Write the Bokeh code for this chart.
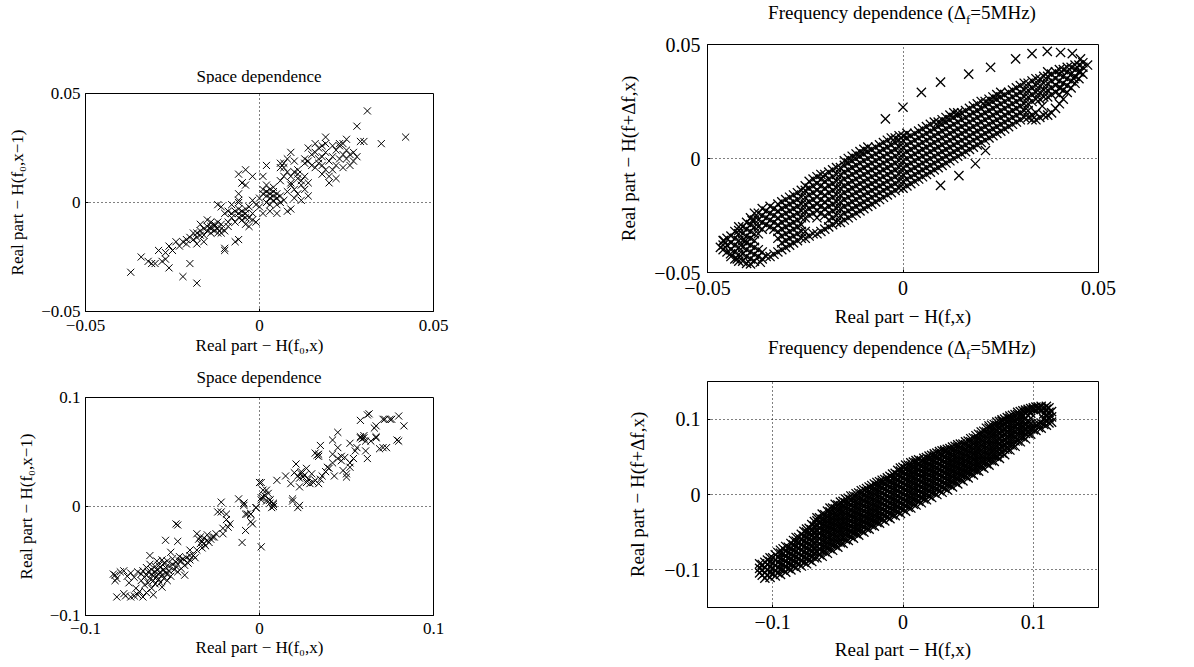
from bokeh.plotting import figure
from bokeh.layouts import row, column
from bokeh.models import FixedTicker, Range1d, Div
from bokeh.embed import file_html
from bokeh.resources import INLINE

FONT = "Liberation Serif"

# ---------------- data ----------------
# Space dependence, top-left panel: (H(f0,x), H(f0,x-1))
space_top = [
    (-.037,-.032),(-.034,-.025),(-.032,-.027),(-.031,-.028),(-.030,-.028),(-.028,-.027),(-.027,-.026),(-.026,-.030),
    (-.022,-.034),(-.020,-.028),(-.018,-.037),(-.027,-.023),(-.026,-.020),(-.023,-.020),(-.022,-.018),(-.021,-.019),
    (-.024,-.018),(-.025,-.022),(-.029,-.022),(-.019,-.017),(-.018,-.014),(-.017,-.015),(-.017,-.010),(-.015,-.008),
    (-.014,-.011),(-.013,-.011),(-.012,-.012),(-.011,-.014),(-.010,-.022),(-.010,-.021),(-.007,-.018),(-.006,-.017),
    (-.020,-.016),(-.019,-.014),(-.018,-.016),(-.017,-.013),(-.016,-.012),(-.016,-.015),(-.015,-.013),(-.015,-.011),
    (-.014,-.014),(-.014,-.012),(-.014,-.009),(-.013,-.013),(-.013,-.010),(-.012,-.009),(-.012,-.014),(-.011,-.012),
    (-.011,-.010),(-.010,-.013),(-.009,-.009),(-.009,-.011),(-.016,-.018),(-.018,-.019),(-.021,-.017),(-.008,-.007),
    (-.007,-.009),(-.010,-.005),(-.008,-.005),(-.012,-.001),(-.011,-.002),(-.009,-.004),(-.008,-.001),(-.006,-.005),
    (-.005,-.004),(-.004,-.007),(-.004,-.010),(-.003,-.011),(-.002,-.005),(-.006,.001),(-.006,.004),(-.005,.009),
    (-.006,-.003),(-.005,-.006),(-.004,-.005),(-.004,-.003),(-.003,-.007),(-.005,-.008),(-.006,-.007),(-.003,-.002),
    (-.002,-.008),(-.001,-.009),(-.007,-.004),(-.006,.000),(-.002,.001),(-.001,-.001),(-.006,.013),(-.004,.015),
    (-.002,.012),(.001,.012),(-.005,.009),(-.004,.008),(.000,.002),(.001,.004),(.001,.006),(.002,.003),
    (.002,.005),(.002,.008),(.003,.002),(.003,.004),(.003,.006),(.004,.001),(.004,.003),(.004,.005),
    (.004,.007),(.005,.002),(.005,.004),(.006,.000),(.006,.003),(.005,-.001),(.003,-.001),(.002,.000),
    (.007,.001),(.008,-.004),(.009,-.003),(.001,-.005),(.003,-.004),(.005,-.005),(.000,-.002),(.006,.010),
    (.007,.012),(.008,.014),(.009,.009),(.006,.016),(.007,.018),(.008,.005),(.009,.008),(.010,.002),
    (.010,.006),(.011,.011),(.011,.004),(.012,.008),(.012,.001),(.013,.006),(.013,.012),(.014,.009),
    (.014,.003),(.010,.014),(.009,.012),(.008,.020),(.010,.019),(.011,.015),(.013,.018),
    (.014,.019),(.015,.022),(.015,.017),(.016,.016),(.016,.023),(.017,.020),(.017,.018),(.017,.025),
    (.018,.013),(.018,.021),(.018,.017),(.019,.015),(.019,.023),(.020,.019),(.020,.012),(.021,.021),
    (.021,.015),(.022,.024),(.022,.017),(.023,.026),(.023,.020),(.024,.022),(.024,.016),(.025,.024),
    (.025,.020),(.026,.022),(.027,.023),(.027,.019),(.028,.021),(.026,.017),(.022,.011),(.020,.009),
    (.019,.027),(.014,.025),(.013,.020),(.016,.027),(.018,.026),(.024,.027),(.021,.026),(.009,.023),
    (.002,.017),(.006,.018),(.007,.016),(.011,.013),(.012,.010),
    (.031,.042),(.028,.035),(.029,.028),(.030,.028),(.035,.027),(.042,.030),(.019,.030),(.023,.027),(.025,.029),
]

# Space dependence, bottom-left panel
space_bottom = [
    (-.084,-.062),(-.083,-.063),(-.083,-.068),(-.082,-.066),(-.082,-.083),(-.080,-.060),(-.078,-.059),(-.077,-.082),
    (-.076,-.064),(-.075,-.070),(-.074,-.061),(-.072,-.065),(-.072,-.082),(-.071,-.075),(-.070,-.060),(-.069,-.078),
    (-.068,-.068),(-.068,-.062),(-.067,-.083),(-.067,-.059),(-.066,-.065),(-.066,-.072),(-.065,-.056),(-.065,-.063),
    (-.064,-.070),(-.064,-.060),(-.063,-.053),(-.063,-.066),(-.063,-.045),(-.062,-.058),(-.062,-.062),(-.062,-.075),
    (-.061,-.064),(-.061,-.068),(-.060,-.055),(-.060,-.060),(-.060,-.071),(-.059,-.050),(-.059,-.058),(-.059,-.064),
    (-.058,-.062),(-.058,-.067),(-.058,-.054),(-.057,-.056),(-.057,-.060),(-.057,-.070),(-.056,-.049),(-.056,-.063),
    (-.056,-.074),(-.055,-.058),(-.055,-.052),(-.055,-.066),(-.054,-.061),(-.054,-.056),(-.053,-.062),(-.053,-.050),
    (-.053,-.068),(-.052,-.055),(-.052,-.059),(-.051,-.042),(-.051,-.064),(-.050,-.053),(-.050,-.048),(-.049,-.058),
    (-.048,-.055),(-.048,-.051),(-.047,-.060),(-.046,-.050),(-.046,-.046),(-.045,-.050),(-.045,-.057),(-.044,-.048),
    (-.043,-.063),(-.043,-.054),(-.042,-.047),(-.041,-.052),(-.040,-.049),(-.040,-.045),(-.074,-.083),(-.070,-.081),
    (-.078,-.080),(-.065,-.079),(-.061,-.081),
    (-.054,-.031),(-.048,-.016),(-.047,-.032),(-.047,-.017),
    (-.040,-.040),(-.038,-.045),(-.037,-.047),(-.036,-.025),(-.035,-.030),(-.034,-.028),(-.034,-.034),(-.033,-.032),
    (-.032,-.034),(-.032,-.029),(-.031,-.036),(-.030,-.031),(-.030,-.026),(-.029,-.033),(-.028,-.030),(-.027,-.028),
    (-.026,-.028),(-.025,-.025),(-.033,-.038),(-.036,-.040),
    (-.022,.004),(-.024,-.005),(-.022,-.005),(-.019,-.007),(-.018,-.019),(-.017,-.016),(-.019,-.012),(-.021,-.020),
    (-.021,-.025),(-.012,.007),(-.009,.001),(-.008,-.007),(-.007,-.007),(-.004,-.016),(-.010,-.033),(-.008,-.022),
    (-.005,-.014),(.001,-.037),(-.009,.003),(-.005,-.007),(-.002,-.001),
    (.000,.022),(.001,.008),(.002,.015),(.004,.005),(.006,.006),(.006,.003),(.008,.002),(.007,-.001),
    (.008,.000),(.003,.010),(.005,.012),
    (.063,.085),(.058,.079),(.072,.080),(.076,.080),(.080,.083),(.083,.074),(.067,.074),(.045,.068),
    (.042,.061),(.058,.064),(.061,.060),(.067,.064),(.079,.061),(.073,.054),(.069,.053),(.052,.058),
    (.061,.051),(.035,.056),(.034,.048),(.042,.048),(.045,.054),(.047,.046),(.047,.042),(.049,.045),
    (.054,.044),(.055,.051),(.062,.044),(.052,.036),(.048,.033),(.050,.027),(.040,.035),(.035,.025),
    (.043,.028),(.038,.032),(.029,.021),(.031,.022),(.027,.035),(.024,.032),(.025,.027),(.021,.039),
    (.020,.031),(.018,.021),(.023,.018),(.015,.028),(.010,.024),(.001,.022),(.002,.009),(.004,.015),
    (.006,.006),(.008,.003),(.001,.006),(.019,.007),(.023,.001),(-.009,.003),(-.005,-.007),(-.002,-.001),
    (.022,.028),(.023,.026),(.024,.030),(.026,.029),(.027,.022),(.028,.025),(.030,.030),(.032,.024),
    (.034,.021),(.036,.028),(.039,.036),(.042,.040),(.045,.044),(.050,.030),(.052,.040),(.056,.054),
    (.058,.063),(.060,.063),(.060,.065),(.059,.062),(.064,.060),(.066,.072),(.062,.084),(.071,.080),
    (.075,.080),(.080,.060),(.071,.054),(.067,.063),(.019,.005),(.022,-.001),(.033,.047),(.032,.049),(.034,.046),
]

# Frequency dependence, top-right panel: band, listed per H(f,x) column
freq_top_cols = {
    -.046: [-.040,-.038,-.036],
    -.044: [-.043,-.040,-.037,-.034],
    -.042: [-.045,-.042,-.039,-.036,-.033,-.030],
    -.040: [-.046,-.043,-.040,-.037,-.034,-.031,-.028],
    -.038: [-.045,-.042,-.039,-.036,-.033,-.030,-.027,-.024],
    -.036: [-.044,-.041,-.031,-.028,-.025,-.022],
    -.034: [-.043,-.030,-.027,-.024,-.021],
    -.032: [-.041,-.035,-.032,-.029,-.026,-.023,-.020],
    -.030: [-.039,-.036,-.033,-.030,-.027,-.024,-.021,-.018],
    -.028: [-.037,-.034,-.031,-.028,-.025,-.022,-.019,-.016],
    -.026: [-.035,-.032,-.029,-.026,-.023,-.020,-.017,-.014],
    -.024: [-.034,-.025,-.022,-.019,-.016,-.013,-.010],
    -.022: [-.033,-.026,-.023,-.020,-.017,-.014,-.011,-.008],
    -.020: [-.031,-.025,-.022,-.019,-.016,-.013,-.010,-.007],
    -.018: [-.029,-.026,-.023,-.020,-.017,-.014,-.011,-.008,-.005],
    -.016: [-.028,-.025,-.022,-.019,-.016,-.013,-.010,-.007,-.004],
    -.014: [-.026,-.023,-.020,-.017,-.014,-.011,-.008,-.005,-.002,.000],
    -.012: [-.024,-.021,-.018,-.015,-.012,-.009,-.006,-.003,.000,.002],
    -.010: [-.022,-.019,-.016,-.013,-.010,-.007,-.004,-.001,.002,.004],
    -.008: [-.020,-.017,-.014,-.011,-.008,-.005,-.002,.001,.004],
    -.006: [-.018,-.015,-.012,-.009,-.006,-.003,.000,.003,.006],
    -.004: [-.016,-.013,-.010,-.007,-.004,-.001,.002,.005,.008],
    -.002: [-.014,-.011,-.008,-.005,-.002,.001,.004,.007,.009],
    .000: [-.013,-.010,-.007,-.004,-.001,.002,.005,.008,.010],
    .002: [-.011,-.008,-.005,-.002,.001,.004,.007,.010],
    .004: [-.009,-.006,-.003,.000,.003,.006,.009,.012],
    .006: [-.007,-.004,-.001,.002,.005,.008,.011,.014],
    .008: [-.005,-.002,.001,.004,.007,.010,.013,.016],
    .010: [-.003,.000,.003,.006,.009,.012,.015,.017],
    .012: [-.001,.002,.005,.008,.011,.014,.017,.019],
    .014: [.001,.004,.007,.010,.013,.016,.019,.020],
    .016: [.003,.006,.009,.012,.015,.018,.021],
    .018: [.005,.008,.011,.014,.017,.020,.023],
    .020: [.007,.010,.013,.016,.019,.022,.025],
    .022: [.009,.012,.015,.018,.021,.024,.026],
    .024: [.011,.014,.017,.020,.023,.026,.028],
    .026: [.013,.016,.019,.022,.025,.028],
    .028: [.015,.018,.021,.024,.027,.030],
    .030: [.017,.020,.023,.026,.029,.032],
    .032: [.018,.021,.024,.027,.030,.033],
    .034: [.017,.020,.026,.029,.032,.035],
    .036: [.019,.027,.030,.033,.036],
    .038: [.020,.028,.031,.034,.037],
    .040: [.024,.028,.031,.034,.037,.039],
    .042: [.029,.032,.035,.038,.040],
    .044: [.033,.036,.039,.041],
    .046: [.037,.040,.042],
}
# more band points of the same panel, between the columns above
freq_top_cols_b = {
    -.045: [-.041,-.038,-.035],
    -.043: [-.044,-.041,-.038,-.035,-.032],
    -.041: [-.045,-.042,-.039,-.036,-.033,-.030],
    -.039: [-.044,-.041,-.038,-.035,-.032,-.029,-.026],
    -.037: [-.043,-.040,-.033,-.030,-.027,-.024],
    -.035: [-.043,-.029,-.026,-.023],
    -.033: [-.042,-.031,-.028,-.025,-.022],
    -.031: [-.040,-.037,-.034,-.031,-.028,-.025,-.022,-.019],
    -.029: [-.038,-.035,-.032,-.029,-.026,-.023,-.020,-.017],
    -.027: [-.036,-.033,-.030,-.027,-.024,-.021,-.018,-.015],
    -.025: [-.035,-.032,-.026,-.023,-.020,-.017,-.014,-.012],
    -.023: [-.033,-.024,-.021,-.018,-.015,-.012,-.009],
    -.021: [-.032,-.024,-.021,-.018,-.015,-.012,-.009,-.007],
    -.019: [-.030,-.027,-.024,-.021,-.018,-.015,-.012,-.009,-.006],
    -.017: [-.028,-.025,-.022,-.019,-.016,-.013,-.010,-.007,-.004],
    -.015: [-.027,-.024,-.021,-.018,-.015,-.012,-.009,-.006,-.003,-.001],
    -.013: [-.025,-.022,-.019,-.016,-.013,-.010,-.007,-.004,-.001,.001],
    -.011: [-.023,-.020,-.017,-.014,-.011,-.008,-.005,-.002,.001,.003],
    -.009: [-.021,-.018,-.015,-.012,-.009,-.006,-.003,.000,.003,.005],
    -.007: [-.019,-.016,-.013,-.010,-.007,-.004,-.001,.002,.005],
    -.005: [-.017,-.014,-.011,-.008,-.005,-.002,.001,.004,.007],
    -.003: [-.015,-.012,-.009,-.006,-.003,.000,.003,.006,.009],
    -.001: [-.013,-.010,-.007,-.004,-.001,.002,.005,.008,.010],
    .001: [-.012,-.009,-.006,-.003,.000,.003,.006,.009,.011],
    .003: [-.010,-.007,-.004,-.001,.002,.005,.008,.011],
    .005: [-.008,-.005,-.002,.001,.004,.007,.010,.013],
    .007: [-.006,-.003,.000,.003,.006,.009,.012,.015],
    .009: [-.004,-.001,.002,.005,.008,.011,.014,.016],
    .011: [-.002,.001,.004,.007,.010,.013,.016,.018],
    .013: [.000,.003,.006,.009,.012,.015,.018,.020],
    .015: [.002,.005,.008,.011,.014,.017,.020],
    .017: [.004,.007,.010,.013,.016,.019,.022],
    .019: [.006,.009,.012,.015,.018,.021,.024],
    .021: [.008,.011,.014,.017,.020,.023,.025],
    .023: [.010,.013,.016,.019,.022,.025,.027],
    .025: [.012,.015,.018,.021,.024,.027,.029],
    .027: [.014,.017,.020,.023,.026,.029],
    .029: [.016,.019,.022,.025,.028,.031],
    .031: [.018,.021,.024,.027,.030,.033],
    .033: [.017,.019,.025,.028,.031,.034],
    .035: [.018,.026,.029,.032,.035],
    .037: [.019,.027,.030,.033,.036,.038],
    .039: [.022,.029,.032,.035,.038],
    .041: [.026,.030,.033,.036,.039],
    .043: [.031,.034,.037,.040],
    .045: [.035,.038,.041],
}
# scattered points outside the band (top-right panel)
freq_top_outliers = [
    (.000,.0225),(-.0045,.0174),(.0047,.029),(.0096,.0335),(.0168,.037),(.0224,.040),(.0288,.0437),(.033,.046),
    (.0369,.047),(.0403,.0465),(.0433,.046),(.0454,.0437),(.0472,.041),
    (.0096,-.0118),(.0143,-.0075),(.0185,-.0023),(.0211,.0035),(.0356,.023),(.0403,.031),(.0437,.035),(.0454,.038),
    (-.0467,-.039),(-.0458,-.036),(-.0441,-.0418),(-.0424,-.044),(-.039,-.0462),(-.0365,-.0455),(-.042,-.0316),
    (-.0386,-.0272),(-.0403,-.036),
]

# Frequency dependence, bottom-right panel: band, listed per H(f,x) column
freq_bottom_cols = {
    -.110: [-.104,-.098,-.092],
    -.106: [-.111,-.104,-.097,-.090],
    -.102: [-.110,-.103,-.096,-.089,-.084],
    -.098: [-.108,-.101,-.094,-.087,-.080],
    -.094: [-.106,-.099,-.092,-.085,-.078,-.074],
    -.090: [-.103,-.096,-.089,-.082,-.075,-.069],
    -.086: [-.100,-.093,-.086,-.079,-.072,-.065],
    -.082: [-.097,-.090,-.083,-.076,-.069,-.062,-.057],
    -.078: [-.095,-.088,-.081,-.074,-.067,-.060,-.053],
    -.074: [-.092,-.085,-.078,-.071,-.064,-.057,-.050,-.046],
    -.070: [-.089,-.082,-.075,-.068,-.061,-.054,-.047,-.040],
    -.066: [-.084,-.077,-.070,-.063,-.056,-.049,-.042,-.035,-.031],
    -.062: [-.082,-.075,-.068,-.061,-.054,-.047,-.040,-.033,-.026],
    -.058: [-.078,-.071,-.064,-.057,-.050,-.043,-.036,-.029,-.022],
    -.054: [-.074,-.067,-.060,-.053,-.046,-.039,-.032,-.025,-.018],
    -.050: [-.070,-.063,-.056,-.049,-.042,-.035,-.028,-.021,-.014],
    -.046: [-.065,-.058,-.051,-.044,-.037,-.030,-.023,-.016,-.009],
    -.042: [-.061,-.054,-.047,-.040,-.033,-.026,-.019,-.012,-.005],
    -.038: [-.058,-.051,-.044,-.037,-.030,-.023,-.016,-.009,-.002],
    -.034: [-.054,-.047,-.040,-.033,-.026,-.019,-.012,-.005,.002],
    -.030: [-.050,-.043,-.036,-.029,-.022,-.015,-.008,-.001,.006],
    -.026: [-.046,-.039,-.032,-.025,-.018,-.011,-.004,.003,.010],
    -.022: [-.042,-.035,-.028,-.021,-.014,-.007,.000,.007,.014],
    -.018: [-.038,-.031,-.024,-.017,-.010,-.003,.004,.011,.017],
    -.014: [-.035,-.028,-.021,-.014,-.007,.000,.007,.014,.020],
    -.010: [-.032,-.025,-.018,-.011,-.004,.003,.010,.017,.024],
    -.006: [-.028,-.021,-.014,-.007,.000,.007,.014,.021,.028],
    -.002: [-.025,-.018,-.011,-.004,.003,.010,.017,.024,.031,.035],
    .002: [-.022,-.015,-.008,-.001,.006,.013,.020,.027,.034,.039],
    .006: [-.018,-.011,-.004,.003,.010,.017,.024,.031,.038,.042],
    .010: [-.014,-.007,.000,.007,.014,.021,.028,.035,.042,.045],
    .014: [-.011,-.004,.003,.010,.017,.024,.031,.038,.045],
    .018: [-.007,.000,.007,.014,.021,.028,.035,.042,.049],
    .022: [-.004,.003,.010,.017,.024,.031,.038,.045,.052],
    .026: [.000,.007,.014,.021,.028,.035,.042,.049,.055],
    .030: [.003,.010,.017,.024,.031,.038,.045,.052,.058],
    .034: [.006,.013,.020,.027,.034,.041,.048,.055,.060],
    .038: [.010,.017,.024,.031,.038,.045,.052,.059,.063],
    .042: [.014,.021,.028,.035,.042,.049,.056,.063,.066],
    .046: [.018,.025,.032,.039,.046,.053,.060,.067],
    .050: [.022,.029,.036,.043,.050,.057,.064,.071],
    .054: [.026,.033,.040,.047,.054,.061,.068,.075],
    .058: [.031,.038,.045,.052,.059,.066,.073,.080],
    .062: [.035,.042,.049,.056,.063,.070,.077,.084],
    .066: [.039,.046,.053,.060,.067,.074,.081,.088,.091],
    .070: [.044,.051,.058,.065,.072,.079,.086,.093],
    .074: [.048,.055,.062,.069,.076,.083,.090,.097],
    .078: [.053,.060,.067,.074,.081,.088,.095,.100],
    .082: [.059,.066,.073,.080,.087,.094,.101,.104],
    .086: [.064,.071,.078,.085,.092,.099,.106],
    .090: [.070,.077,.084,.091,.098,.105,.110],
    .094: [.074,.081,.088,.095,.102,.109,.112],
    .098: [.080,.087,.094,.101,.108,.114],
    .102: [.085,.092,.112,.116],
    .106: [.088,.095,.113,.117],
    .110: [.092,.099,.106,.113,.117],
    .114: [.096,.103,.110],
}
# more band points of the same panel, between the columns above
freq_bottom_cols_b = {
    -.108: [-.107,-.100,-.093],
    -.104: [-.107,-.100,-.093,-.087],
    -.100: [-.105,-.098,-.091,-.084],
    -.096: [-.104,-.097,-.090,-.083,-.077],
    -.092: [-.100,-.093,-.086,-.079,-.072],
    -.088: [-.098,-.091,-.084,-.077,-.070],
    -.084: [-.095,-.088,-.081,-.074,-.067,-.061],
    -.080: [-.092,-.085,-.078,-.071,-.064,-.057],
    -.076: [-.090,-.083,-.076,-.069,-.062,-.055,-.049],
    -.072: [-.087,-.080,-.073,-.066,-.059,-.052,-.045],
    -.068: [-.084,-.077,-.070,-.063,-.056,-.049,-.042,-.036],
    -.064: [-.080,-.073,-.066,-.059,-.052,-.045,-.038,-.031],
    -.060: [-.076,-.069,-.062,-.055,-.048,-.041,-.034,-.027],
    -.056: [-.072,-.065,-.058,-.051,-.044,-.037,-.030,-.023,-.018],
    -.052: [-.068,-.061,-.054,-.047,-.040,-.033,-.026,-.019,-.013],
    -.048: [-.064,-.057,-.050,-.043,-.036,-.029,-.022,-.015,-.010],
    -.044: [-.060,-.053,-.046,-.039,-.032,-.025,-.018,-.011,-.006],
    -.040: [-.056,-.049,-.042,-.035,-.028,-.021,-.014,-.007,-.002],
    -.036: [-.052,-.045,-.038,-.031,-.024,-.017,-.010,-.003,.001],
    -.032: [-.048,-.041,-.034,-.027,-.020,-.013,-.006,.001,.005],
    -.028: [-.045,-.038,-.031,-.024,-.017,-.010,-.003,.004,.008],
    -.024: [-.041,-.034,-.027,-.020,-.013,-.006,.001,.008,.012],
    -.020: [-.037,-.030,-.023,-.016,-.009,-.002,.005,.012,.016],
    -.016: [-.033,-.026,-.019,-.012,-.005,.002,.009,.016,.019],
    -.012: [-.030,-.023,-.016,-.009,-.002,.005,.012,.019,.022],
    -.008: [-.027,-.020,-.013,-.006,.001,.008,.015,.022,.027],
    -.004: [-.023,-.016,-.009,-.002,.005,.012,.019,.026,.032],
    .000: [-.020,-.013,-.006,.001,.008,.015,.022,.029,.036],
    .004: [-.017,-.010,-.003,.004,.011,.018,.025,.032,.039],
    .008: [-.013,-.006,.001,.008,.015,.022,.029,.036,.043],
    .012: [-.009,-.002,.005,.012,.019,.026,.033,.040,.046],
    .016: [-.006,.001,.008,.015,.022,.029,.036,.043,.048],
    .020: [-.002,.005,.012,.019,.026,.033,.040,.047,.051],
    .024: [.002,.009,.016,.023,.030,.037,.044,.051,.054],
    .028: [.005,.012,.019,.026,.033,.040,.047,.054,.057],
    .032: [.008,.015,.022,.029,.036,.043,.050,.057,.059],
    .036: [.012,.019,.026,.033,.040,.047,.054,.061],
    .040: [.016,.023,.030,.037,.044,.051,.058,.064],
    .044: [.020,.027,.034,.041,.048,.055,.062,.067],
    .048: [.024,.031,.038,.045,.052,.059,.066,.070],
    .052: [.028,.035,.042,.049,.056,.063,.070,.074],
    .056: [.032,.039,.046,.053,.060,.067,.074,.078],
    .060: [.037,.044,.051,.058,.065,.072,.079,.083],
    .064: [.041,.048,.055,.062,.069,.076,.083,.088],
    .068: [.045,.052,.059,.066,.073,.080,.087,.092],
    .072: [.050,.057,.064,.071,.078,.085,.092,.096],
    .076: [.055,.062,.069,.076,.083,.090,.097,.099],
    .080: [.060,.067,.074,.081,.088,.095,.102],
    .084: [.065,.072,.079,.086,.093,.100,.105],
    .088: [.071,.078,.085,.092,.099,.106,.109],
    .092: [.076,.083,.090,.097,.104,.111],
    .096: [.081,.088,.095,.111,.113],
    .100: [.086,.092,.113,.115],
    .104: [.089,.094,.114,.116],
    .108: [.093,.100,.107,.114],
    .112: [.095,.102,.109,.115],
}

ticks_005 = [-0.05, 0.0, 0.05]
labels_005 = {-0.05: "\u22120.05", 0.0: "0", 0.05: "0.05"}
ticks_01 = [-0.1, 0.0, 0.1]
labels_01 = {-0.1: "\u22120.1", 0.0: "0", 0.1: "0.1"}

space_title = "Space dependence"
freq_title = "Frequency dependence (\u0394<sub style='font-size:13px;line-height:0;vertical-align:-5px'>f</sub>=5MHz)"
space_xlabel = "Real part \u2212 H(f\u2080,x)"
space_ylabel = "Real part \u2212 H(f\u2080,x\u22121)"
freq_xlabel = "Real part \u2212 H(f,x)"
freq_ylabel = "Real part \u2212 H(f+\u0394f,x)"


def unzip(points):
    return [p[0] for p in points], [p[1] for p in points]


def cols_xy(col_sets, extra):
    xs, ys = [], []
    for cols in col_sets:
        for cx, cy in cols.items():
            for yv in cy:
                xs.append(cx)
                ys.append(yv)
    ex, ey = unzip(extra)
    return xs + ex, ys + ey


def title_div(html, width, height, centre_x, pad_top, fs, lh):
    inner = ("<div style=\"margin-left:%dpx;width:400px;text-align:center;padding-top:%dpx;"
             "font-family:'Liberation Serif';font-size:%s;line-height:%dpx;color:black;white-space:nowrap\">%s</div>"
             % (round(centre_x - 200), pad_top, fs, lh, html))
    return Div(text=inner, width=width, height=height, margin=0)


def panel(xs, ys, rng, ticks, labels, xlabel, ylabel, width, height, borders,
          fs_tick, fs_label, x_std, x_lab_std, y_std, y_lab_std, msize, mwidth):
    left, right, top, bottom = borders
    p = figure(width=width, height=height, x_range=Range1d(*rng), y_range=Range1d(*rng),
               output_backend="svg", toolbar_location=None,
               min_border_left=left, min_border_right=right,
               min_border_top=top, min_border_bottom=bottom)
    p.scatter(xs, ys, marker="x", size=msize, line_color="black", line_width=mwidth)
    for ax, std, lstd, lab in ((p.xaxis, x_std, x_lab_std, xlabel), (p.yaxis, y_std, y_lab_std, ylabel)):
        ax.ticker = FixedTicker(ticks=ticks)
        ax.major_label_overrides = labels
        ax.axis_label = lab
        ax.major_label_text_font = FONT
        ax.major_label_text_font_size = fs_tick
        ax.major_label_text_color = "black"
        ax.axis_label_text_font = FONT
        ax.axis_label_text_font_size = fs_label
        ax.axis_label_text_font_style = "normal"
        ax.axis_label_text_color = "black"
        ax.major_label_standoff = std
        ax.axis_label_standoff = lstd
        ax.major_tick_in = 3
        ax.major_tick_out = 0
        ax.minor_tick_line_color = None
        ax.axis_line_color = "black"
        ax.major_tick_line_color = "black"
    for g in (p.xgrid, p.ygrid):
        g.ticker = FixedTicker(ticks=ticks)
        g.grid_line_color = "black"
        g.grid_line_dash = "1 3"
        g.grid_line_width = 1
    p.outline_line_color = "black"
    p.outline_line_width = 1
    p.background_fill_color = "white"
    p.border_fill_color = "white"
    return p


sx1, sy1 = unzip(space_top)
sx2, sy2 = unzip(space_bottom)
fx1, fy1 = cols_xy([freq_top_cols, freq_top_cols_b], freq_top_outliers)
fx2, fy2 = cols_xy([freq_bottom_cols, freq_bottom_cols_b], [])

# left column: frames at x 85..433, y 93..311 and 397..615
d1 = title_div(space_title, 560, 83, 259, 67, "17px", 20)
p1 = panel(sx1, sy1, (-0.05, 0.05), ticks_005, labels_005, space_xlabel, space_ylabel,
           560, 278, (85, 127, 10, 50), "17px", "17px", 8, 2, 5, 11, 10, 1.0)
d2 = title_div(space_title, 560, 27, 259, 8, "17px", 18)
p2 = panel(sx2, sy2, (-0.1, 0.1), ticks_01, labels_01, space_xlabel, space_ylabel,
           560, 277, (85, 127, 9, 50), "17px", "17px", 7, 1, 5, 11, 10, 1.0)
# right column: frames at x 707..1098, y 44..272 and 381..607
d3 = title_div(freq_title, 626, 32, 342, 2, "19px", 22)
p3 = panel(fx1, fy1, (-0.05, 0.05), ticks_005, labels_005, freq_xlabel, freq_ylabel,
           626, 302, (147, 88, 12, 62), "20px", "19px", 8, 8, 7, 12, 13, 1.3)
d4 = title_div(freq_title, 626, 35, 342, 3, "19px", 22)
p4 = panel(fx2, fy2, (-0.15, 0.15), ticks_01, labels_01, freq_xlabel, freq_ylabel,
           626, 297, (147, 88, 12, 59), "20px", "19px", 7, 7, 7, 13, 13, 1.3)

layout = row(column(d1, p1, d2, p2), column(d3, p3, d4, p4))
open("out.html", "w").write(file_html(layout, INLINE))
